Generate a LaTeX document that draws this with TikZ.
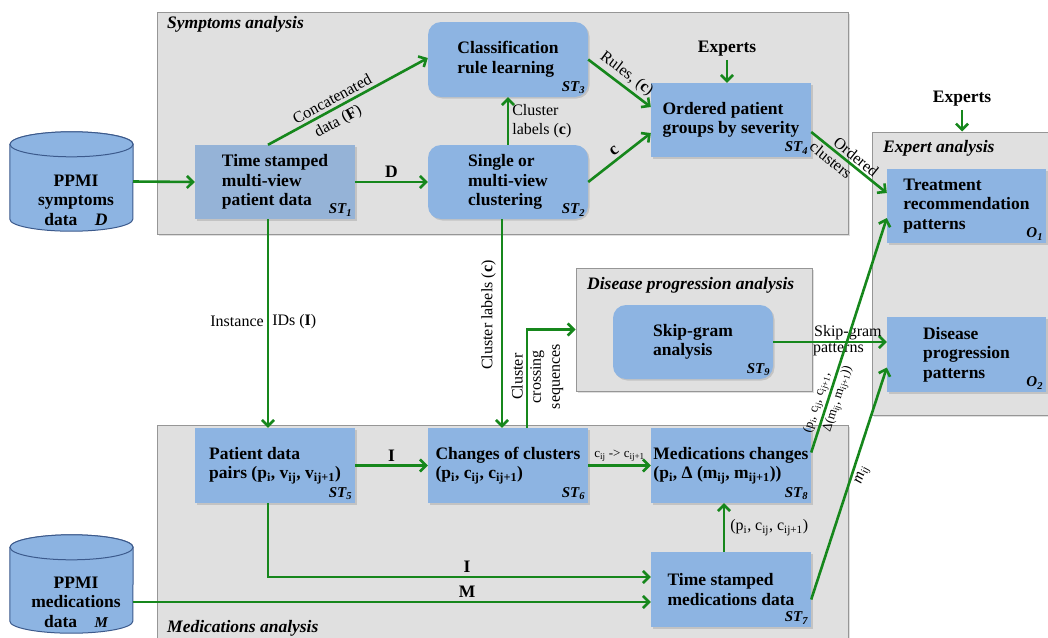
\documentclass[tikz,border=0pt]{standalone}
\usepackage{fontspec}
\setmainfont{Liberation Serif}
\usetikzlibrary{arrows.meta,calc,shadows}
\definecolor{boxblue}{RGB}{141,180,226}
\definecolor{stoneblue}{RGB}{149,179,215}
\definecolor{panelgray}{RGB}{224,224,224}
\definecolor{panelline}{RGB}{150,150,150}
\definecolor{arrgreen}{RGB}{22,135,28}
\definecolor{cylline}{RGB}{60,90,140}
\newcommand\mybf{\fontsize{17.5}{19.5}\selectfont\bfseries}
\newcommand\mylab{\fontsize{16}{19}\selectfont}
\newcommand\mysmall{\fontsize{13}{15}\selectfont}
\newcommand\mytag{\fontsize{15}{17}\selectfont\bfseries\itshape}
\newcommand\mytitle{\fontsize{17.5}{20}\selectfont\bfseries\itshape}
\begin{document}
\begin{tikzpicture}[x=1pt,y=-1pt,
  panel/.style={draw=panelline, line width=1pt, fill=panelgray, inner sep=0pt,
    drop shadow={shadow xshift=1.5pt, shadow yshift=-1.5pt, opacity=0.25}},
  ttl/.style={font=\mytitle, inner sep=0pt, anchor=base west},
  boxsq/.style={fill=boxblue, minimum width=160pt, minimum height=74pt, inner sep=2pt,
    align=left, font=\mybf,
    drop shadow={shadow xshift=1.5pt, shadow yshift=-1.5pt, opacity=0.3}},
  boxrd/.style={boxsq, rounded corners=13pt},
  tagn/.style={font=\mytag, inner sep=3pt, anchor=south east},
  cylanchor/.style={draw=none, minimum width=123pt, minimum height=99pt, inner sep=0pt},
  cylpaint/.style={draw=cylline, line width=1pt, fill=boxblue},
  cyltxt/.style={font=\mybf, align=center, inner sep=0pt},
  arr/.style={draw=arrgreen, line width=2.6pt, -{Straight Barb[length=6pt,width=12pt]}},
  lab/.style={font=\mylab, inner sep=3pt},
  blab/.style={font=\mybf, inner sep=3pt},
  slab/.style={font=\mysmall, inner sep=3pt}
]
\useasboundingbox (0,0) rectangle (1048,637);
% panels
\node[panel, minimum width=691pt, minimum height=222pt] (psym) at (502.5,123) {};
\node[panel, minimum width=184pt, minimum height=283pt] (pexp) at (964,273.5) {};
\node[panel, minimum width=236pt, minimum height=123pt] (pdis) at (694,329.5) {};
\node[panel, minimum width=691pt, minimum height=220pt] (pmed) at (502.5,535) {};
\node[ttl] (tsym) at (167,28) {Symptoms analysis};
\node[ttl] (texp) at (883,152) {Expert analysis};
\node[ttl] (tdis) at (587,289) {Disease progression analysis};
\node[ttl] (tmed) at (167,632) {Medications analysis};
% data stores
\node[cylanchor] (cyl1) at (71.5,181.5) {};
\filldraw[cylpaint] ($(cyl1.north west)+(0,12.5)$) -- ($(cyl1.south west)+(0,-12)$)
  arc[start angle=180, end angle=0, x radius=61.5, y radius=12]
  -- ($(cyl1.north east)+(0,12.5)$)
  arc[start angle=0, end angle=-180, x radius=61.5, y radius=12.5] -- cycle;
\draw[cylpaint] ($(cyl1.north)+(0,12.5)$) ellipse[x radius=61.5, y radius=12.5];
\node[cyltxt] (cyl1t) at (76,200) {PPMI\\symptoms\\data\quad\textit{D}};
\node[cylanchor, minimum height=98pt] (cyl2) at (71.5,584) {};
\filldraw[cylpaint] ($(cyl2.north west)+(0,12.5)$) -- ($(cyl2.south west)+(0,-12)$)
  arc[start angle=180, end angle=0, x radius=61.5, y radius=12]
  -- ($(cyl2.north east)+(0,12.5)$)
  arc[start angle=0, end angle=-180, x radius=61.5, y radius=12.5] -- cycle;
\draw[cylpaint] ($(cyl2.north)+(0,12.5)$) ellipse[x radius=61.5, y radius=12.5];
\node[cyltxt] (cyl2t) at (76,602) {PPMI\\medications\\data\quad{\mytag M}};
% boxes
\node[boxsq, fill=stoneblue] (st1) at (275,182) {Time stamped\\multi-view\\patient data};
\node[boxrd] (st2) at (508,182) {Single or\\multi-view\\clustering};
\node[boxrd, minimum height=75pt] (st3) at (508,59.5) {Classification\\rule learning};
\node[boxsq] (st4) at (731,120) {Ordered patient\\groups by severity};
\node[boxsq, minimum width=159pt] (o1) at (966.5,206) {Treatment\\recommendation\\patterns};
\node[boxsq, minimum width=159pt, minimum height=75pt] (o2) at (966.5,354.5) {Disease\\progression\\patterns};
\node[boxrd] (st9) at (693,342) {Skip-gram\\analysis};
\node[boxsq, minimum height=75pt] (st5) at (275,465.5) {Patient data\\pairs (p\textsubscript{i}, v\textsubscript{ij}, v\textsubscript{ij+1})};
\node[boxsq, minimum height=75pt] (st6) at (508,465.5) {Changes of clusters\\(p\textsubscript{i}, c\textsubscript{ij}, c\textsubscript{ij+1})};
\node[boxsq, minimum height=75pt] (st8) at (731,465.5) {Medications changes\\(p\textsubscript{i}, Δ (m\textsubscript{ij}, m\textsubscript{ij+1}))};
\node[boxsq, minimum height=75pt] (st7) at (731,589.5) {Time stamped\\medications data};
% tags
\node[tagn] (st1t) at (st1.south east) {ST\textsubscript{1}};
\node[tagn] (st2t) at (st2.south east) {ST\textsubscript{2}};
\node[tagn] (st3t) at (st3.south east) {ST\textsubscript{3}};
\node[tagn] (st4t) at (st4.south east) {ST\textsubscript{4}};
\node[tagn] (st5t) at (st5.south east) {ST\textsubscript{5}};
\node[tagn] (st6t) at (st6.south east) {ST\textsubscript{6}};
\node[tagn] (st7t) at (st7.south east) {ST\textsubscript{7}};
\node[tagn] (st8t) at (st8.south east) {ST\textsubscript{8}};
\node[tagn] (st9t) at (st9.south east) {ST\textsubscript{9}};
\node[tagn] (o1t) at (o1.south east) {O\textsubscript{1}};
\node[tagn] (o2t) at (o2.south east) {O\textsubscript{2}};
% experts
\node[blab] (exp1) at (727,49) {Experts};
\node[blab] (exp2) at (962,99) {Experts};
% connectors
\draw[arr] (cyl1.east) -- (st1.west);
\draw[arr] (st1.east) -- node[above, blab]{D} (st2.west);
\draw[arr] ($(st1.north)+(-7,0)$) --
  node[pos=0.43, sloped, above, lab, inner sep=3pt]{Concatenated}
  node[pos=0.40, sloped, below, lab, inner sep=5pt]{data (\textbf{F})}
  ($(st3.west)+(0,-1.5)$);
\draw[arr] (st2.north) -- node[right, lab, align=left]{Cluster\\labels (\textbf{c})} (st3.south);
\draw[arr] (st3.east) -- node[sloped, above, lab]{Rules, (\textbf{c})} ($(st4.west)+(0,-13)$);
\draw[arr] (st2.east) -- node[sloped, above, blab]{c} ($(st4.west)+(0,13)$);
\draw[arr] (exp1.south) -- (exp1.south |- st4.north);
\draw[arr] (exp2.south) -- (exp2.south |- pexp.north);
\draw[arr] ($(st4.east)+(0,12)$) --
  node[pos=0.52, sloped, above, lab, inner sep=2pt]{Ordered}
  node[pos=0.34, sloped, below, lab, inner sep=2.5pt]{clusters}
  ($(o1.west)+(0,-13)$);
\draw[arr] ($(st1.south)+(-7,0)$) -- node[pos=0.49, left, lab]{Instance} node[pos=0.49, right, lab]{IDs (\textbf{I})} ($(st5.north)+(-7,0)$);
\draw[arr] ($(st2.south)+(-6,0)$) -- node[pos=0.46, rotate=90, anchor=south, lab, inner sep=5pt]{Cluster labels (\textbf{c})} ($(st6.north)+(-6,0)$);
\draw[arr] ($(st6.north)+(19,0)$) |-
  node[pos=0.26, rotate=90, anchor=south, lab, inner sep=3pt]{Cluster}
  node[pos=0.26, rotate=90, anchor=north, lab, align=center, inner sep=2pt]{crossing\\sequences}
  (pdis.west);
\draw[arr] (st5.east) -- node[above, blab]{I} (st6.west);
\draw[arr] (st6.east) -- node[above, slab]{c\textsubscript{ij} -> c\textsubscript{ij+1}} (st8.west);
\draw[arr] ($(st5.south)+(-7,0)$) |- node[pos=0.76, above, blab]{I} ($(st7.west)+(0,-12.5)$);
\coordinate (mstart) at ($(cyl2.east)+(0,18)$);
\draw[arr] (mstart) -- node[pos=0.645, above, blab]{M} (mstart -| st7.west);
\draw[arr] ($(st7.north)+(-7,0)$) -- node[right, lab, inner sep=5pt]{(p\textsubscript{i}, c\textsubscript{ij}, c\textsubscript{ij+1})} ($(st8.south)+(-7,0)$);
\draw[arr] (st9.east) --
  node[pos=0.34, anchor=south west, lab, inner sep=1pt]{Skip-gram}
  node[pos=0.34, anchor=north west, lab, inner sep=0pt]{patterns}
  (st9.east -| o2.west);
\draw[arr] ($(st8.east)+(0,-13)$) --
  node[pos=0.20, sloped, above, slab, inner sep=1.5pt]{(p\textsubscript{i}, c\textsubscript{ij}, c\textsubscript{ij+1},}
  node[pos=0.24, sloped, below, slab, inner sep=1.5pt]{Δ(m\textsubscript{ij}, m\textsubscript{ij+1}))}
  ($(o1.west)+(0,12)$);
\draw[arr] ($(st7.east)+(0,10)$) -- node[pos=0.55, sloped, below, lab]{\textit{m\textsubscript{ij}}} ($(o2.west)+(0,13)$);
\end{tikzpicture}
\end{document}
